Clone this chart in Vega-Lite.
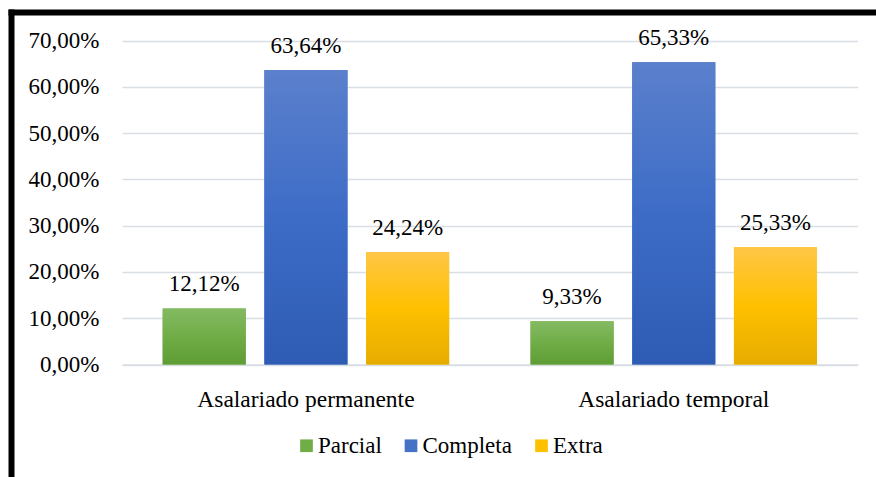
{
  "$schema": "https://vega.github.io/schema/vega-lite/v6.json",
  "width": 865,
  "height": 465,
  "autosize": {"type": "none"},
  "padding": {"left": 11, "top": 12, "right": 0, "bottom": 0},
  "background": "white",
  "config": {
    "view": {"stroke": null},
    "locale": {"number": {"decimal": ",", "thousands": ".", "grouping": [3], "currency": ["", " €"]}},
    "font": "Liberation Serif, Times New Roman, serif"
  },
  "data": {
    "values": [
      {"grupo": "Asalariado permanente", "serie": "Parcial", "valor": 0.1212},
      {"grupo": "Asalariado permanente", "serie": "Completa", "valor": 0.6364},
      {"grupo": "Asalariado permanente", "serie": "Extra", "valor": 0.2424},
      {"grupo": "Asalariado temporal", "serie": "Parcial", "valor": 0.0933},
      {"grupo": "Asalariado temporal", "serie": "Completa", "valor": 0.6533},
      {"grupo": "Asalariado temporal", "serie": "Extra", "valor": 0.2533}
    ]
  },
  "resolve": {
    "scale": {"x": "independent", "y": "independent"},
    "axis": {"x": "independent", "y": "independent"}
  },
  "layer": [
    {
      "encoding": {
        "x": {
          "field": "grupo",
          "type": "nominal",
          "scale": {"domain": ["Asalariado permanente", "Asalariado temporal"], "range": [111, 846.7], "paddingInner": 0, "paddingOuter": 0},
          "axis": {
            "orient": "bottom",
            "offset": -112.5,
            "domain": true,
            "domainColor": "#D9DDE4",
            "domainWidth": 1.5,
            "ticks": false,
            "tickSize": 0,
            "labelPadding": 41.5,
            "labelBaseline": "alphabetic",
            "labelFontSize": 23.5,
            "labelFont": "Liberation Serif, Times New Roman, serif",
            "labelColor": "#000000",
            "labelAngle": 0,
            "labelLimit": 0,
            "title": null,
            "grid": false
          }
        },
        "xOffset": {
          "field": "serie",
          "type": "nominal",
          "scale": {"domain": ["Parcial", "Completa", "Extra"], "paddingInner": 0.183, "paddingOuter": 0.4}
        },
        "y": {
          "field": "valor",
          "type": "quantitative",
          "scale": {"domain": [0, 0.7], "range": [352.5, 28.7], "nice": false, "zero": true},
          "axis": {
            "values": [0, 0.1, 0.2, 0.3, 0.4, 0.5, 0.6, 0.7],
            "format": ".2%",
            "domain": false,
            "ticks": false,
            "tickSize": 0,
            "labelPadding": -88,
            "grid": true,
            "gridColor": "#D9DDE4",
            "gridWidth": 1.5,
            "labelFontSize": 23,
            "labelFont": "Liberation Serif, Times New Roman, serif",
            "labelColor": "#000000",
            "labelLimit": 0,
            "title": null
          }
        }
      },
      "layer": [
        {
          "mark": {"type": "bar"},
          "encoding": {
            "color": {
              "field": "serie",
              "type": "nominal",
              "scale": {"domain": ["Parcial", "Completa", "Extra"], "range": ["#70AD47", "#4472C4", "#FFC000"]},
              "legend": {
                "orient": "none",
                "legendX": 284,
                "legendY": 422,
                "direction": "horizontal",
                "title": null,
                "symbolType": "square",
                "symbolSize": 161,
                "symbolStrokeWidth": 0,
                "symbolOpacity": 1,
                "labelOffset": 0,
                "columnPadding": 17.5,
                "labelFontSize": 23,
                "labelFont": "Liberation Serif, Times New Roman, serif",
                "labelColor": "#000000",
                "labelLimit": 0,
                "padding": 0
              }
            }
          }
        },
        {
          "transform": [{"filter": "datum.serie === 'Parcial'"}],
          "mark": {
            "type": "bar",
            "color": {"gradient": "linear", "x1": 0, "y1": 0, "x2": 0, "y2": 1,
              "stops": [{"offset": 0, "color": "#84BA63"}, {"offset": 0.5, "color": "#70AD47"}, {"offset": 1, "color": "#5E9C35"}]}
          }
        },
        {
          "transform": [{"filter": "datum.serie === 'Completa'"}],
          "mark": {
            "type": "bar",
            "color": {"gradient": "linear", "x1": 0, "y1": 0, "x2": 0, "y2": 1,
              "stops": [{"offset": 0, "color": "#5B80CC"}, {"offset": 0.5, "color": "#3D6CC7"}, {"offset": 1, "color": "#2E5CB4"}]}
          }
        },
        {
          "transform": [{"filter": "datum.serie === 'Extra'"}],
          "mark": {
            "type": "bar",
            "color": {"gradient": "linear", "x1": 0, "y1": 0, "x2": 0, "y2": 1,
              "stops": [{"offset": 0, "color": "#FFC646"}, {"offset": 0.5, "color": "#FFC000"}, {"offset": 1, "color": "#E6AC00"}]}
          }
        },
        {
          "mark": {"type": "text", "dy": -17, "baseline": "alphabetic", "fontSize": 23, "font": "Liberation Serif, Times New Roman, serif", "color": "#000000"},
          "encoding": {
            "text": {"field": "valor", "type": "quantitative", "format": ".2%"}
          }
        }
      ]
    },
    {
      "mark": {"type": "point", "opacity": 0},
      "encoding": {
        "x": {
          "datum": 0,
          "type": "quantitative",
          "scale": {"domain": [0, 1]},
          "axis": {"orient": "top", "domain": true, "domainColor": "#000000", "domainWidth": 6, "domainCap": "square", "labels": false, "ticks": false, "grid": false, "title": null}
        },
        "y": {
          "datum": 0,
          "type": "quantitative",
          "scale": {"domain": [0, 1]},
          "axis": {"orient": "left", "domain": true, "domainColor": "#000000", "domainWidth": 6, "domainCap": "square", "labels": false, "ticks": false, "grid": false, "title": null}
        }
      }
    }
  ]
}
